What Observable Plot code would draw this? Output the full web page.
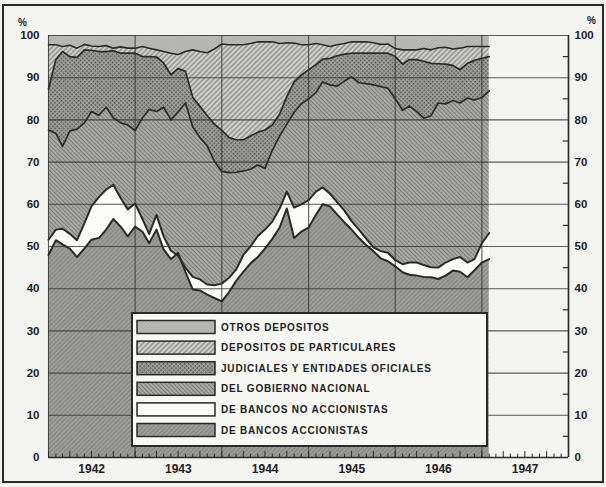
<!DOCTYPE html>
<html><head><meta charset="utf-8">
<script src="https://cdn.jsdelivr.net/npm/d3@7"></script>
<script src="https://cdn.jsdelivr.net/npm/@observablehq/plot@0.6"></script>
<style>
body{margin:0;background:#f3f3f0;}
#chart{width:606px;height:487px;}
</style></head><body><div id="chart"></div>
<script>
// Series labels (legend order, top to bottom)
const series = ["OTROS DEPOSITOS","DEPOSITOS DE PARTICULARES","JUDICIALES Y ENTIDADES OFICIALES","DEL GOBIERNO NACIONAL","DE BANCOS NO ACCIONISTAS","DE BANCOS ACCIONISTAS"];
const yearLabels = [1942,1943,1944,1945,1946,1947];
const yTicks = [0,10,20,30,40,50,60,70,80,90,100];

// Cumulative upper limits (%) of each stacked layer, monthly Jan 1942 – Feb 1947
const limBancosAccionistas = [48.0,51.5,50.5,49.5,47.5,49.5,51.6,52.0,54.0,56.5,54.7,52.4,
  54.7,53.5,50.8,54.0,49.3,47.0,48.5,44.0,39.8,39.6,38.6,37.8,
  37.0,39.2,41.8,44.0,46.0,47.5,49.5,51.8,54.5,59.0,52.0,53.5,
  54.5,57.5,60.0,59.5,57.6,55.7,54.0,52.0,50.3,48.9,47.2,46.5,
  45.3,43.9,43.3,43.1,42.8,42.7,42.3,43.1,44.3,44.0,42.7,44.4,
  46.2,47.0];
const limBancosNoAccionistas = [51.6,54.0,54.2,53.0,51.5,55.5,59.5,61.7,63.5,64.6,61.5,58.8,
  60.2,56.5,53.0,57.5,52.4,49.0,47.8,45.0,42.8,42.2,41.0,40.8,
  41.2,42.6,44.5,48.0,50.0,52.5,54.0,55.9,59.0,63.0,59.2,60.0,
  61.0,63.0,64.0,62.5,60.5,58.5,56.0,54.0,51.8,49.8,48.9,48.5,
  46.8,45.8,46.2,46.2,45.6,45.1,45.0,46.2,47.0,47.5,46.2,47.0,
  50.8,53.2];
const limGobiernoNacional = [77.6,76.8,73.7,77.4,77.8,79.3,82.0,81.1,83.0,80.5,79.3,78.8,
  77.5,80.5,82.5,82.0,83.0,80.0,81.9,84.0,78.3,75.8,73.8,70.2,
  67.8,67.5,67.6,67.9,68.3,69.3,68.5,72.8,76.2,79.0,81.8,83.8,
  85.0,86.5,89.0,88.3,88.0,89.2,90.2,88.8,88.6,88.3,87.9,87.5,
  85.0,82.3,83.3,82.0,80.4,81.0,84.0,83.8,84.6,84.0,85.2,84.7,
  85.3,86.9];
const limJudiciales = [87.3,94.3,96.2,95.0,94.8,96.6,96.5,96.2,96.2,96.4,95.8,95.8,
  95.8,95.0,95.0,94.9,93.5,90.7,92.2,91.5,85.3,83.2,81.0,79.0,
  77.5,75.8,75.3,75.3,76.2,77.1,77.6,78.8,81.4,85.5,89.0,90.6,
  91.9,93.1,94.4,94.6,95.2,95.6,95.8,95.8,95.8,95.8,95.8,95.8,
  95.0,93.2,94.3,94.3,93.9,93.4,93.3,93.2,92.9,91.9,93.4,94.1,
  94.6,95.0];
const limParticulares = [97.8,97.8,97.4,97.7,97.0,97.9,97.5,97.4,97.6,97.0,97.3,97.0,
  97.0,97.4,97.0,96.6,96.2,95.8,95.5,96.2,96.6,96.2,95.9,96.8,
  98.0,97.8,97.8,97.8,98.1,98.5,98.5,98.5,98.1,98.3,98.2,97.8,
  97.8,98.1,97.8,97.4,97.8,98.1,98.5,98.5,98.5,98.3,97.9,98.0,
  96.9,96.6,96.6,96.6,96.9,96.6,97.1,97.2,96.8,97.0,97.4,97.4,
  97.4,97.4];

const months = d3.utcMonths(new Date(Date.UTC(1942,0,1)), new Date(Date.UTC(1947,2,1)));
const rows = months.map((fecha,i)=>({fecha,
  a:limBancosAccionistas[i], b:limBancosNoAccionistas[i], c:limGobiernoNacional[i],
  d:limJudiciales[i], e:limParticulares[i]}));

const x0 = new Date(Date.UTC(1942,0,1)), x1 = new Date(Date.UTC(1948,0,1));
const yearStarts = d3.utcYears(x0, new Date(Date.UTC(1948,0,2)));
const allMonths = d3.utcMonths(x0, new Date(Date.UTC(1948,0,2)));
const minorY = [5,15,25,35,45,55,65,75,85,95];

const patIds = ["pOtros","pPart","pJud","pGob","pNo","pAcc"];
const ink = "#2a2a2a";

const chart = Plot.plot({
  width:606, height:487, marginLeft:48, marginRight:38, marginTop:35, marginBottom:30,
  x:{type:"utc", domain:[x0,x1], axis:null},
  y:{domain:[0,100], axis:null},
  style:{background:"transparent", fontFamily:"'Liberation Sans', Arial, sans-serif", overflow:"visible"},
  marks:[
    Plot.areaY(rows,{x:"fecha", y1:0, y2:"a", fill:"url(#pAcc)"}),
    Plot.areaY(rows,{x:"fecha", y1:"a", y2:"b", fill:"url(#pNo)"}),
    Plot.areaY(rows,{x:"fecha", y1:"b", y2:"c", fill:"url(#pGob)"}),
    Plot.areaY(rows,{x:"fecha", y1:"c", y2:"d", fill:"url(#pJud)"}),
    Plot.areaY(rows,{x:"fecha", y1:"d", y2:"e", fill:"url(#pPart)"}),
    Plot.areaY(rows,{x:"fecha", y1:"e", y2:100, fill:"url(#pOtros)"}),
    Plot.ruleY(yTicks,{x1:()=>x0, x2:()=>x1, stroke:"#333", strokeOpacity:0.8, strokeWidth:1.1}),
    Plot.ruleX(yearStarts,{y1:0, y2:100, stroke:"#333", strokeOpacity:0.8, strokeWidth:1.1}),
    Plot.lineY(rows,{x:"fecha", y:"a", stroke:ink, strokeWidth:2}),
    Plot.lineY(rows,{x:"fecha", y:"b", stroke:ink, strokeWidth:2}),
    Plot.lineY(rows,{x:"fecha", y:"c", stroke:ink, strokeWidth:1.7}),
    Plot.lineY(rows,{x:"fecha", y:"d", stroke:ink, strokeWidth:1.7}),
    Plot.lineY(rows,{x:"fecha", y:"e", stroke:ink, strokeWidth:1.6}),
    Plot.ruleX([x1],{y1:0, y2:100, stroke:ink, strokeWidth:1.6}),
    Plot.ruleY([0],{x1:()=>x0, x2:()=>x1, stroke:ink, strokeWidth:1.6}),
    Plot.ruleY(minorY,{x1:()=>new Date(Date.UTC(1947,11,10)), x2:()=>x1, stroke:ink, strokeWidth:1.2}),
    Plot.ruleX(allMonths,{y1:0, y2:d=>d.getUTCMonth()%3===0?1.4:0.8, stroke:ink, strokeWidth:1}),
    Plot.text(yTicks,{x:()=>x0, y:d=>d, text:d=>String(d), dx:-9, textAnchor:"end", fontWeight:"bold", fontSize:11.5, fill:"#222", ariaLabel:"ylabels"}),
    Plot.text(yTicks,{x:()=>x1, y:d=>d, text:d=>String(d), dx:6, textAnchor:"start", fontWeight:"bold", fontSize:11.5, fill:"#222", ariaLabel:"ylabels"}),
    Plot.text(yearLabels,{x:d=>new Date(Date.UTC(d,6,2)), y:()=>0, text:d=>String(d), dy:12, fontWeight:"bold", fontSize:12, fill:"#222", ariaLabel:"xlabels"}),
    Plot.text(["%"],{x:()=>x0, y:()=>100, dx:-26, dy:-13, fontWeight:"bold", fontSize:10, fill:"#222"}),
    Plot.text(["%"],{x:()=>x1, y:()=>100, dx:23, dy:-15, fontWeight:"bold", fontSize:10, fill:"#222"})
  ]
});
document.getElementById("chart").appendChild(chart);

const svg = d3.select(chart);
svg.selectAll('g[aria-label="ylabels"] text').attr("letter-spacing","1.8px");
svg.selectAll('g[aria-label="xlabels"] text').attr("letter-spacing","1px");

const defs = svg.insert("defs",":first-child");
function hatch(id,bg,line,angle,sp,w){
  const p = defs.append("pattern").attr("id",id).attr("patternUnits","userSpaceOnUse")
    .attr("width",sp).attr("height",sp).attr("patternTransform",`rotate(${angle})`);
  p.append("rect").attr("width",sp).attr("height",sp).attr("fill",bg);
  if (line) p.append("line").attr("x1",sp/2).attr("y1",0).attr("x2",sp/2).attr("y2",sp).attr("stroke",line).attr("stroke-width",w);
}
hatch("pAcc","#8b8b8a","#a6a6a4",45,3.2,1.1);
hatch("pNo","#fbfbf8",null,0,4,0);
hatch("pGob","#a9a9a7","#7c7c7b",-45,3,1);
hatch("pPart","#d0d0ce","#737372",45,3.6,1);
hatch("pOtros","#b9b9b7","#aeaeac",45,2.5,0.8);
{
  const p = defs.append("pattern").attr("id","pJud").attr("patternUnits","userSpaceOnUse")
    .attr("width",3).attr("height",3).attr("patternTransform","rotate(45)");
  p.append("rect").attr("width",3).attr("height",3).attr("fill","#a2a2a0");
  p.append("rect").attr("width",1.6).attr("height",1.6).attr("fill","#4f4f4e");
}

// legend
const lg = svg.append("g").attr("text-anchor","start");
lg.append("rect").attr("x",132).attr("y",313).attr("width",355).attr("height",133)
  .attr("fill","#f7f7f4").attr("stroke",ink).attr("stroke-width",2);
series.forEach((label,k)=>{
  const cy = 327 + k*20.6;
  lg.append("rect").attr("x",137).attr("y",cy-6.5).attr("width",78).attr("height",13)
    .attr("fill",`url(#${patIds[k]})`).attr("stroke",ink).attr("stroke-width",1.5);
  lg.append("text").attr("x",221).attr("y",cy).attr("dy","0.36em").text(label)
    .attr("text-anchor","start")
    .attr("font-family","'Liberation Sans', Arial, sans-serif").attr("font-weight","bold")
    .attr("font-size",10).attr("letter-spacing","0.8px").attr("fill","#222");
});
// outer frame
svg.append("rect").attr("x",3).attr("y",5).attr("width",600).attr("height",477)
  .attr("fill","none").attr("stroke",ink).attr("stroke-width",2);
</script></body></html>
